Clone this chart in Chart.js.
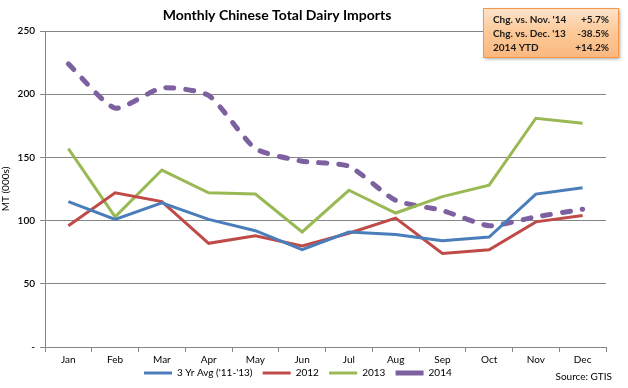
<!DOCTYPE html>
<html>
<head>
<meta charset="utf-8">
<script src="https://cdn.jsdelivr.net/npm/chart.js@4/dist/chart.umd.min.js"></script>
<style>
  html, body { margin: 0; padding: 0; background: #fff; }
  #wrap { width: 628px; height: 388px; position: relative; }
</style>
</head>
<body>
<div id="wrap"><canvas id="dairy-chart" width="628" height="388"></canvas></div>
<script>
// ===== data =====
const months = ['Jan', 'Feb', 'Mar', 'Apr', 'May', 'Jun', 'Jul', 'Aug', 'Sep', 'Oct', 'Nov', 'Dec'];
const avg3yr = [115, 101, 114, 101, 92, 77, 91, 89, 84, 87, 121, 126];
const y2012 = [96, 122, 115, 82, 88, 80, 90, 102, 74, 77, 99, 104];
const y2013 = [157, 103, 140, 122, 121, 91, 124, 106, 119, 128, 181, 177];
const y2014 = [224, 189, 205, 199, 157, 147, 143, 116, 108, 96, 103, 109];
const yTicks = [0, 50, 100, 150, 200, 250];
const boxRows = [
  ['Chg. vs. Nov. \'14', '+5.7%'],
  ['Chg. vs. Dec. \'13', '-38.5%'],
  ['2014 YTD', '+14.2%']
];

const FONT = 'Lato, "Open Sans", sans-serif';

// title, change box and source text
const extras = {
  id: 'extras',
  afterDraw(chart) {
    const ctx = chart.ctx;
    ctx.save();
    ctx.fillStyle = '#000';
    ctx.font = 'bold 14px ' + FONT;
    ctx.textAlign = 'center';
    ctx.textBaseline = 'middle';
    ctx.fillText('Monthly Chinese Total Dairy Imports', 277, 15);

    // orange box
    const bx = 483, by = 8, bw = 135, bh = 49;
    ctx.shadowColor = 'rgba(0,0,0,0.35)';
    ctx.shadowOffsetX = 2;
    ctx.shadowOffsetY = 2;
    ctx.shadowBlur = 3;
    const g = ctx.createLinearGradient(0, by, 0, by + bh);
    g.addColorStop(0, '#fde3cc');
    g.addColorStop(0.5, '#fcc997');
    g.addColorStop(1, '#fbb880');
    ctx.fillStyle = g;
    ctx.fillRect(bx, by, bw, bh);
    ctx.shadowColor = 'transparent';
    ctx.strokeStyle = '#f79646';
    ctx.lineWidth = 1;
    ctx.strokeRect(bx + 0.5, by + 0.5, bw, bh);

    ctx.fillStyle = '#1a1a1a';
    ctx.font = 'bold 10px ' + FONT;
    boxRows.forEach((r, i) => {
      const y = 20 + i * 14;
      ctx.textAlign = 'left';
      ctx.fillText(r[0], 493, y);
      ctx.textAlign = 'right';
      ctx.fillText(r[1], 609, y);
    });

    ctx.font = '10px ' + FONT;
    ctx.fillStyle = '#000';
    ctx.textAlign = 'right';
    ctx.fillText('Source: GTIS', 612, 377);
    ctx.restore();
  }
};

const ctx = document.getElementById('dairy-chart').getContext('2d');
new Chart(ctx, {
  type: 'line',
  data: {
    labels: months,
    datasets: [
      { label: "3 Yr Avg ('11-'13)", data: avg3yr, borderColor: '#4a7ebb', borderWidth: 3, tension: 0 },
      { label: '2012', data: y2012, borderColor: '#be4b48', borderWidth: 3, tension: 0 },
      { label: '2013', data: y2013, borderColor: '#98b954', borderWidth: 3, tension: 0 },
      { label: '2014', data: y2014, borderColor: '#7d60a0', borderWidth: 5, borderDash: [8, 12], borderCapStyle: 'round', tension: 0.2 }
    ]
  },
  options: {
    responsive: false,
    animation: false,
    elements: { point: { radius: 0, hoverRadius: 0 } },
    layout: { padding: { top: 31, right: 22, left: 0, bottom: 0 } },
    plugins: {
      title: { display: false },
      tooltip: { enabled: false },
      legend: {
        position: 'bottom',
        align: 'center',
        labels: {
          usePointStyle: true,
          pointStyle: 'line',
          pointStyleWidth: 28,
          color: '#000',
          font: { size: 10, family: FONT },
          padding: 0,
          generateLabels(chart) {
            const items = Chart.defaults.plugins.legend.labels.generateLabels(chart);
            items.forEach(it => { it.pointStyle = 'line'; it.text = it.text + '    '; });
            return items;
          }
        }
      }
    },
    scales: {
      x: {
        offset: true,
        grid: { display: true, drawOnChartArea: false, drawTicks: true, tickLength: 5, color: '#868686', offset: true },
        border: { color: '#868686' },
        ticks: { color: '#000', font: { size: 10, family: FONT }, maxRotation: 0, padding: 2 }
      },
      y: {
        min: 0,
        max: 250,
        afterBuildTicks(scale) { scale.ticks = yTicks.map(v => ({ value: v })); },
        afterFit(scale) { scale.width = 45; },
        grid: { color: '#868686', tickLength: 5 },
        border: { color: '#868686' },
        ticks: {
          color: '#000',
          font: { size: 10, family: FONT, weight: '600' },
          padding: 5,
          callback: v => (v === 0 ? '-' : v)
        },
        title: { display: true, text: 'MT (000s)', color: '#000', font: { size: 10, family: FONT }, padding: 0 }
      }
    }
  },
  plugins: [extras]
});
</script>
</body>
</html>
